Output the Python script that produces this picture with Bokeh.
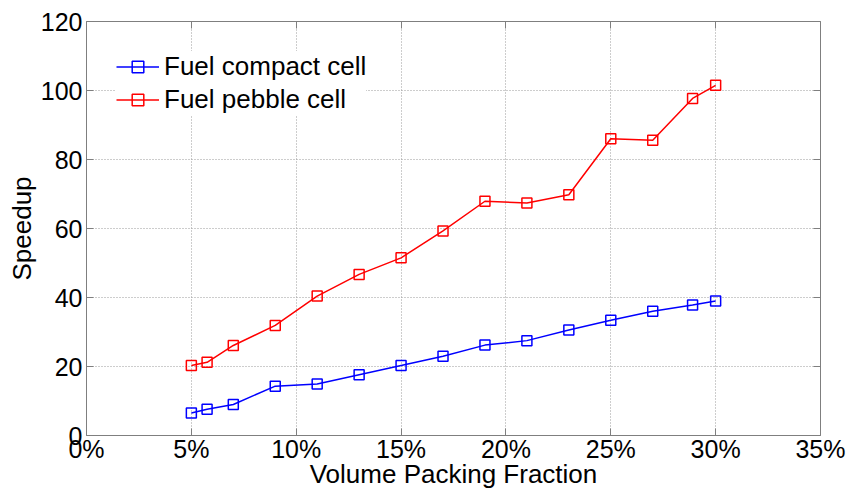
from bokeh.plotting import figure
from bokeh.models import LinearAxis, FixedTicker, PrintfTickFormatter, Range1d
from bokeh.embed import file_html
from bokeh.resources import INLINE

# Data (volume packing fraction in %, speedup)
packing_fraction = [5, 5.75, 7, 9, 11, 13, 15, 17, 19, 21, 23, 25, 27, 28.9, 30]
compact_speedup = [6.5, 7.6, 9.0, 14.3, 14.9, 17.6, 20.3, 23.0, 26.2, 27.5, 30.6, 33.4, 36.0, 37.8, 39.0]
pebble_speedup = [20.3, 21.2, 26.1, 31.9, 40.4, 46.7, 51.5, 59.3, 67.9, 67.4, 69.8, 86.0, 85.6, 97.7, 101.5]
x_ticks = [0, 5, 10, 15, 20, 25, 30, 35]
y_ticks = [0, 20, 40, 60, 80, 100, 120]
series_names = ["Fuel compact cell", "Fuel pebble cell"]
series_colors = ["#0000ff", "#ff0000"]

FONT = "Liberation Sans"
AXIS_COLOR = "#7f7f7f"

p = figure(width=849, height=491, output_backend="svg", toolbar_location=None,
           x_range=Range1d(0, 35), y_range=Range1d(0, 120),
           min_border_left=86, min_border_right=29, min_border_top=21, min_border_bottom=0)
p.outline_line_color = None
p.background_fill_color = "white"
p.border_fill_color = "white"

xt = FixedTicker(ticks=x_ticks, minor_ticks=[])
yt = FixedTicker(ticks=y_ticks, minor_ticks=[])

def style_axis(ax, labels=True):
    ax.axis_line_color = AXIS_COLOR
    ax.axis_line_width = 1
    ax.major_tick_line_color = AXIS_COLOR
    ax.major_tick_in = 7
    ax.major_tick_out = 0
    ax.minor_tick_line_color = None
    ax.major_label_text_font = FONT
    ax.major_label_text_color = "black"
    ax.major_label_text_font_size = "25px"
    if not labels:
        ax.major_label_text_font_size = "1px"
        ax.major_label_text_color = None
        ax.major_label_text_alpha = 0
        ax.major_label_standoff = 0
    ax.axis_label_text_font = FONT
    ax.axis_label_text_font_size = "26px"
    ax.axis_label_text_font_style = "normal"
    ax.axis_label_text_color = "black"

xa = p.xaxis[0]
xa.ticker = xt
xa.formatter = PrintfTickFormatter(format="%d%%")
xa.axis_label = "Volume Packing Fraction"
style_axis(xa)
xa.major_label_standoff = -1
xa.axis_label_standoff = -7

ya = p.yaxis[0]
ya.ticker = yt
ya.axis_label = "Speedup"
style_axis(ya)
ya.major_label_standoff = 4
ya.axis_label_standoff = 1

top = LinearAxis(ticker=xt)
style_axis(top, labels=False)
p.add_layout(top, "above")
right = LinearAxis(ticker=yt)
style_axis(right, labels=False)
p.add_layout(right, "right")

for g, t in ((p.xgrid[0], xt), (p.ygrid[0], yt)):
    g.ticker = t
    g.grid_line_color = "#9a9a9a"
    g.grid_line_dash = "1 2"
    g.grid_line_width = 1

for ys, name, col in ((compact_speedup, series_names[0], series_colors[0]),
                      (pebble_speedup, series_names[1], series_colors[1])):
    p.line(packing_fraction, ys, line_color=col, line_width=1.5, legend_label=name)
    p.scatter(packing_fraction, ys, marker="square", size=10, line_color=col,
              fill_color=None, line_width=1.5, legend_label=name)

lg = p.legend[0]
lg.location = "top_left"
lg.margin = 30
lg.padding = 13
lg.spacing = 2
lg.label_height = 29
lg.glyph_height = 29
lg.glyph_width = 43
lg.label_standoff = 5
lg.label_text_font = FONT
lg.label_text_font_size = "26px"
lg.label_text_color = "black"
lg.border_line_color = None
lg.background_fill_color = "white"
lg.background_fill_alpha = 1.0

open("out.html", "w").write(file_html(p, INLINE))
